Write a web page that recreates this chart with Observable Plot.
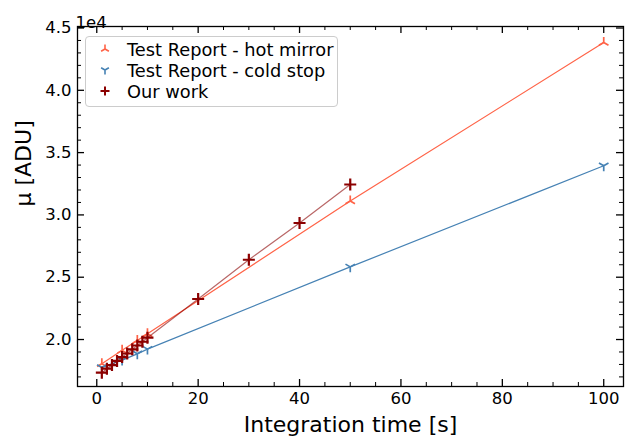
<!DOCTYPE html>
<html><head><meta charset="utf-8">
<script src="https://cdn.jsdelivr.net/npm/d3@7"></script>
<script src="https://cdn.jsdelivr.net/npm/@observablehq/plot@0.6"></script>
<style>
body{margin:0;background:#fff;}
#wrap{position:relative;width:628px;height:438px;font-family:"DejaVu Sans",sans-serif;}
#legend{position:absolute;left:85px;top:36px;width:253px;height:71px;border:1px solid #cccccc;border-radius:4px;background:rgba(255,255,255,0.85);box-sizing:border-box;}
.row{position:absolute;left:0;height:20px;display:flex;align-items:center;font-size:17.8px;color:#000;white-space:nowrap;}
.row svg{margin-left:12px;margin-right:15px;}
</style></head><body><div id="wrap"></div>
<script>
// Data
const hotX  = [1, 5, 8, 10, 50, 100];
const hotY  = [18050, 19130, 19930, 20460, 31120, 43830];
const coldX = [1, 5, 8, 10, 50, 100];
const coldY = [17760, 18350, 18850, 19230, 25830, 33940];
const ourX  = [1, 2, 3, 4, 5, 6, 7, 8, 9, 10, 20, 30, 40, 50];
const ourY  = [17340, 17660, 17950, 18280, 18590, 18880, 19210, 19520, 19820, 20150, 23250, 26400, 29350, 32440];
const seriesNames = ["Test Report - hot mirror", "Test Report - cold stop", "Our work"];
const xMajor = [0, 20, 40, 60, 80, 100];
const xMinor = [5, 10, 15, 25, 30, 35, 45, 50, 55, 65, 70, 75, 85, 90, 95];
const yMajor = [20000, 25000, 30000, 35000, 40000, 45000];
const yMajorLabels = ["2.0", "2.5", "3.0", "3.5", "4.0", "4.5"];
const yMinor = [17000, 18000, 19000, 21000, 22000, 23000, 24000, 26000, 27000, 28000, 29000, 31000, 32000, 33000, 34000, 36000, 37000, 38000, 39000, 41000, 42000, 43000, 44000];

const toRows = (xs, ys) => xs.map((x, i) => ({x, y: ys[i]}));
const hot = toRows(hotX, hotY), cold = toRows(coldX, coldY), ours = toRows(ourX, ourY);

const rad = s => Math.sqrt(s / Math.PI);
const triUp = {draw(c, s){const r = rad(s); c.moveTo(0,0); c.lineTo(0,-r); c.moveTo(0,0); c.lineTo(-0.866*r, 0.5*r); c.moveTo(0,0); c.lineTo(0.866*r, 0.5*r);}};
const triDown = {draw(c, s){const r = rad(s); c.moveTo(0,0); c.lineTo(0,r); c.moveTo(0,0); c.lineTo(-0.866*r, -0.5*r); c.moveTo(0,0); c.lineTo(0.866*r, -0.5*r);}};
const plus = {draw(c, s){const r = rad(s); c.moveTo(-r,0); c.lineTo(r,0); c.moveTo(0,-r); c.lineTo(0,r);}};

const W = 628, H = 438, mL = 77, mR = 5, mT = 26, mB = 52;
const fw = W - mL - mR, fh = H - mT - mB;
const HOT = "#ff6347", COLD = "#4682b4", OUR = "#8b0000";

const chart = Plot.plot({
  width: W, height: H,
  marginLeft: mL, marginRight: mR, marginTop: mT, marginBottom: mB,
  style: {fontFamily: "DejaVu Sans, sans-serif", fontSize: "16.5px", color: "#000", background: "#fff"},
  x: {domain: [-3.8, 103.9], ticks: xMajor, tickSize: 0, tickPadding: 6, tickFormat: d => String(d), label: null},
  y: {domain: [16230, 45120], ticks: yMajor, tickSize: 0, tickPadding: 6, tickFormat: d => yMajorLabels[yMajor.indexOf(d)], label: null},
  marks: [
    Plot.line(hot, {x: "x", y: "y", stroke: HOT, strokeWidth: 1.2}),
    Plot.dot(hot, {x: "x", y: "y", symbol: triUp, r: 5.5, fill: "none", stroke: HOT, strokeWidth: 1.7}),
    Plot.line(cold, {x: "x", y: "y", stroke: COLD, strokeWidth: 1.2}),
    Plot.dot(cold, {x: "x", y: "y", symbol: triDown, r: 5.5, fill: "none", stroke: COLD, strokeWidth: 1.7}),
    Plot.line(ours, {x: "x", y: "y", stroke: OUR, strokeOpacity: 0.6, strokeWidth: 1.2}),
    Plot.dot(ours, {x: "x", y: "y", symbol: plus, r: 6, fill: "none", stroke: OUR, strokeWidth: 2.2}),
    // inward ticks, all four sides
    Plot.tickX(xMajor, {x: d => d, insetTop: fh - 7, stroke: "#000", strokeWidth: 1.3}),
    Plot.tickX(xMajor, {x: d => d, insetBottom: fh - 7, stroke: "#000", strokeWidth: 1.3}),
    Plot.tickX(xMinor, {x: d => d, insetTop: fh - 4, stroke: "#000", strokeWidth: 1}),
    Plot.tickX(xMinor, {x: d => d, insetBottom: fh - 4, stroke: "#000", strokeWidth: 1}),
    Plot.tickY(yMajor, {y: d => d, insetRight: fw - 7, stroke: "#000", strokeWidth: 1.3}),
    Plot.tickY(yMajor, {y: d => d, insetLeft: fw - 7, stroke: "#000", strokeWidth: 1.3}),
    Plot.tickY(yMinor, {y: d => d, insetRight: fw - 4, stroke: "#000", strokeWidth: 1}),
    Plot.tickY(yMinor, {y: d => d, insetLeft: fw - 4, stroke: "#000", strokeWidth: 1}),
    Plot.frame({stroke: "#000", strokeWidth: 1.3}),
    Plot.text(["Integration time [s]"], {frameAnchor: "bottom", dy: 45, fontSize: 22, fill: "#000"}),
    Plot.text(["μ [ADU]"], {frameAnchor: "left", dx: -54, rotate: -90, fontSize: 22, fill: "#000"}),
    Plot.text(["1e4"], {frameAnchor: "top-left", textAnchor: "start", dx: -2, dy: -10, fontSize: 16.5, fill: "#000"})
  ]
});

const wrap = document.getElementById("wrap");
wrap.appendChild(chart);

// legend
const legend = document.createElement("div");
legend.id = "legend";
const syms = [[triUp, HOT, 1.6], [triDown, COLD, 1.6], [plus, OUR, 2]];
seriesNames.forEach((name, i) => {
  const row = document.createElement("div");
  row.className = "row";
  row.style.top = (2 + i * 21) + "px";
  const svg = d3.create("svg").attr("width", 14).attr("height", 14);
  const p = d3.path();
  syms[i][0].draw(p, Math.PI * 4.5 * 4.5);
  svg.append("path").attr("transform", "translate(7,7)").attr("d", p.toString())
     .attr("fill", "none").attr("stroke", syms[i][1]).attr("stroke-width", syms[i][2]);
  row.appendChild(svg.node());
  const span = document.createElement("span");
  span.textContent = name;
  row.appendChild(span);
  legend.appendChild(row);
});
wrap.appendChild(legend);
</script>
</body></html>
